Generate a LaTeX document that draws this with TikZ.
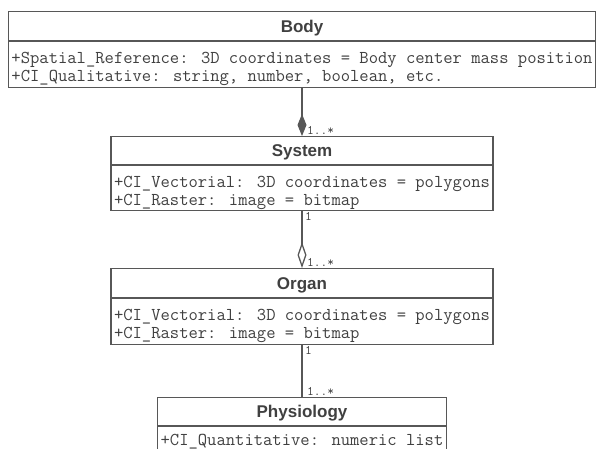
\documentclass[tikz,border=0pt]{standalone}
\usepackage{fontspec}
\setmainfont{Liberation Sans}
\usepackage{tikz}
\usetikzlibrary{positioning, shapes.multipart, arrows.meta}
\definecolor{linegray}{HTML}{575757}
\definecolor{textgray}{HTML}{404040}

\begin{document}
\begin{tikzpicture}[x=1pt, y=-1pt,
  umlclass/.style={rectangle split, rectangle split parts=2, draw=linegray, line width=1.3pt,
    inner xsep=3pt, inner ysep=0pt, align=left, rectangle split part align={center,left},
    text=textgray, font=\ttfamily\fontsize{18.1}{18}\selectfont},
  mult/.style={font=\ttfamily\fontsize{13}{14}\selectfont, text=textgray, inner sep=1pt},
  link/.style={draw=linegray, line width=1.3pt}]

\useasboundingbox (0,0) rectangle (598,449);
\clip (0,0) rectangle (598,449);

% Classes
\node[umlclass, anchor=north] at (302,11) (body)
  {{\rmfamily\bfseries\fontsize{17}{20}\selectfont\rule[-8pt]{0pt}{28pt}Body}
   \nodepart{two}\rule{0pt}{22pt}+Spatial\_Reference: 3D coordinates = Body center mass position\\
   +CI\_Qualitative: string, number, boolean, etc.\rule[-5pt]{0pt}{0pt}};

\node[umlclass, anchor=north] at (302,136) (system)
  {{\rmfamily\bfseries\fontsize{17}{20}\selectfont\rule[-8pt]{0pt}{27pt}System}
   \nodepart{two}\rule{0pt}{22pt}+CI\_Vectorial: 3D coordinates = polygons\\
   +CI\_Raster: image = bitmap\rule[-4pt]{0pt}{0pt}};

\node[umlclass, anchor=north] at (302,268) (organ)
  {{\rmfamily\bfseries\fontsize{17}{20}\selectfont\rule[-8pt]{0pt}{28pt}Organ}
   \nodepart{two}\rule{0pt}{22pt}+CI\_Vectorial: 3D coordinates = polygons\\
   +CI\_Raster: image = bitmap\rule[-5pt]{0pt}{0pt}};

\node[umlclass, anchor=north] at (302,397) (physio)
  {{\rmfamily\bfseries\fontsize{17}{20}\selectfont\rule[-8pt]{0pt}{27pt}Physiology}
   \nodepart{two}\rule{0pt}{19pt}+CI\_Quantitative: numeric list\rule[-5pt]{0pt}{0pt}};

% Associations
\draw[link, -{Diamond[length=22pt, width=9pt]}] (body.south) -- (system.north);
\draw[link, -{Diamond[open, length=26pt, width=9pt]}] (system.south) -- (organ.north);
\draw[link] (organ.south) -- (physio.north);

% Multiplicities
\node[mult, above right=0pt and 4pt of system.north] (m1) {1..*};
\node[mult, below right=0pt and 2pt of system.south] (m2) {1};
\node[mult, above right=0pt and 4pt of organ.north] (m3) {1..*};
\node[mult, below right=0pt and 2pt of organ.south] (m4) {1};
\node[mult, above right=0pt and 4pt of physio.north] (m5) {1..*};

\end{tikzpicture}
\end{document}
